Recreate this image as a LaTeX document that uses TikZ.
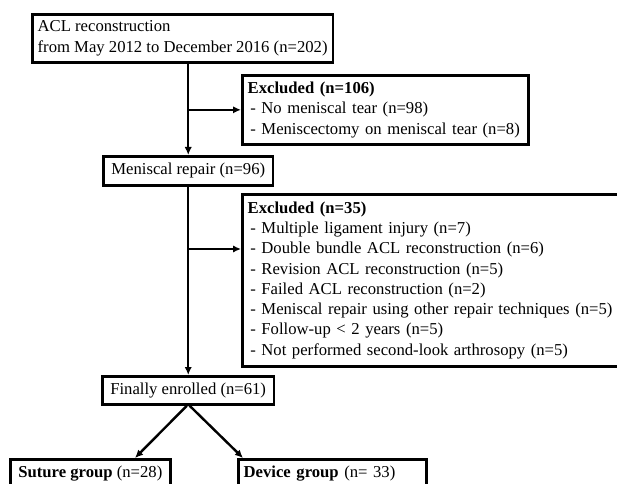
\documentclass[tikz,border=0pt]{standalone}
\usepackage{fontspec}
\setmainfont{Liberation Serif}
\usetikzlibrary{arrows.meta}

\begin{document}
\begin{tikzpicture}[x=0.75pt,y=-0.75pt,
  box/.style={draw,line width=2pt,anchor=north west,align=left,inner xsep=4pt,inner ysep=2pt,font=\fontsize{12.5}{15.2}\selectfont},
  arr/.style={line width=1.8pt,-{Latex[length=6pt,width=5.5pt]}}]
\useasboundingbox (0,0) rectangle (617,484);
% boxes
\node [box,minimum height=36pt] (top) at (31,13) {ACL reconstruction\\from May 2012 to December 2016 (n=202)};
\node [box,text width=206.5pt,minimum height=51.75pt] (ex1) at (241,74) {\textbf{Excluded (n=106)}\\
  \hspace{2pt}- No meniscal tear (n=98)\\
  \hspace{2pt}- Meniscectomy on meniscal tear (n=8)};
\node [box,inner xsep=6pt,minimum height=21.75pt] (men) at (102,155) {Meniscal repair (n=96)};
\node [box,text width=277.75pt,minimum height=129pt] (ex2) at (241,193) {\textbf{Excluded (n=35)}\\
  \hspace{2pt}- Multiple ligament injury (n=7)\\
  \hspace{2pt}- Double bundle ACL reconstruction (n=6)\\
  \hspace{2pt}- Revision ACL reconstruction (n=5)\\
  \hspace{2pt}- Failed ACL reconstruction (n=2)\\
  \hspace{2pt}- Meniscal repair using other repair techniques (n=5)\\
  \hspace{2pt}- Follow-up < 2 years (n=5)\\
  \hspace{2pt}- Not performed second-look arthrosopy (n=5)};
\node [box,inner xsep=6pt,minimum height=21pt] (fin) at (101,375) {Finally enrolled (n=61)};
\node [box,inner xsep=6pt,minimum height=21.75pt] (sut) at (9,458) {\textbf{Suture group} (n=28)};
\node [box,text width=133pt,minimum height=21.75pt] (dev) at (237,458) {\textbf{Device group} (n= 33)};
% arrows
\coordinate (ex2in) at (241,249);
\coordinate (sutin) at (135,458);
\coordinate (devin) at (243,458);
\draw [arr] (top.south -| men.north) -- (men.north);
\draw [arr] (ex1.west -| men.north) -- (ex1.west);
\draw [arr] (men.south) -- (men.south |- fin.north);
\draw [arr] (men.south |- ex2in) -- (ex2in);
\draw [arr] ([xshift=-1pt]men.south |- fin.south) -- (sutin |- sut.north);
\draw [arr] ([xshift=1pt]men.south |- fin.south) -- (devin |- dev.north);
\end{tikzpicture}
\end{document}
